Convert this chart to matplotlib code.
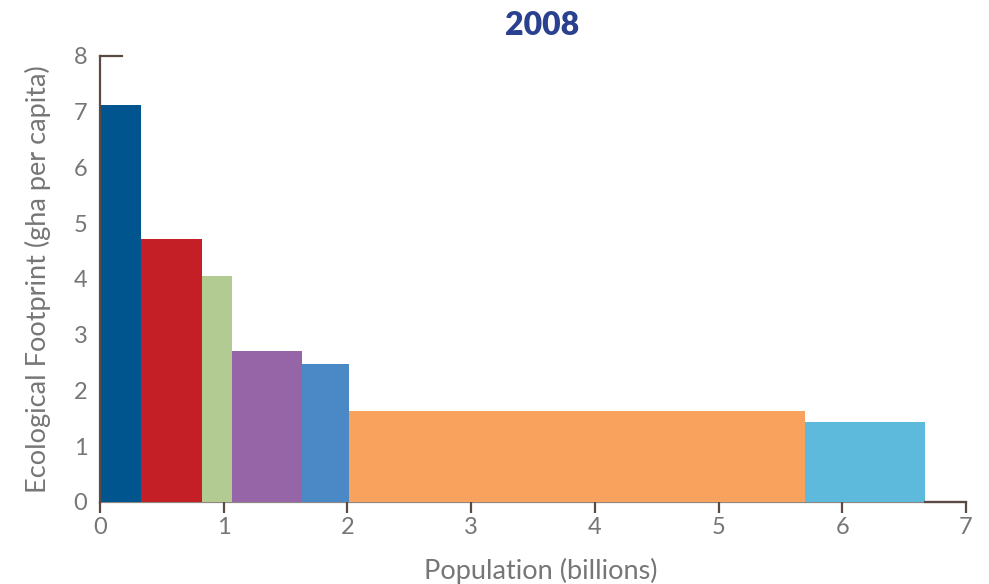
import matplotlib
matplotlib.use("Agg")
import matplotlib.pyplot as plt
from matplotlib.lines import Line2D

# Data (population in billions = bar widths, footprint gha per capita = bar heights)
pop_widths = [0.334, 0.492, 0.240, 0.569, 0.378, 3.687, 0.97]
footprint = [7.11, 4.71, 4.05, 2.71, 2.47, 1.63, 1.43]
colors = ["#00558f", "#c41f26", "#b2cb93", "#9565a8", "#4a88c6", "#f8a25e", "#5dbadd"]
xticks = [0, 1, 2, 3, 4, 5, 6, 7]
yticks = [0, 1, 2, 3, 4, 5, 6, 7, 8]
title = "2008"
xlabel = "Population (billions)"
ylabel = "Ecological Footprint (gha per capita)"

plt.rcParams['font.family'] = ['Lato', 'DejaVu Sans']

fig = plt.figure(figsize=(9.89, 5.84), dpi=100)
ax = fig.add_axes([100/989, 82/584, 866/989, 446.3/584])

lefts = []
acc = 0.0
for w in pop_widths:
    lefts.append(acc)
    acc += w
ax.bar(lefts, footprint, width=pop_widths, align='edge', color=colors, linewidth=0, zorder=2)

ax.set_xlim(0, 7)
ax.set_ylim(0, 8)

for s in ['top', 'right']:
    ax.spines[s].set_visible(False)
ax.spines['left'].set_color('#5b4a44')
ax.spines['left'].set_linewidth(1.6)
ax.spines['bottom'].set_color('#8f8782')
ax.spines['bottom'].set_linewidth(1.6)
ax.spines['left'].set_zorder(3)
ax.spines['bottom'].set_zorder(1)

# end caps
ax.add_line(Line2D([0, 0.175], [8, 8], color='#5b4a44', lw=1.6, clip_on=False, zorder=3))
ax.add_line(Line2D([6.67, 7], [0, 0], color='#5b4a44', lw=1.6, clip_on=False, zorder=3))

ax.set_xticks(xticks)
ax.set_xticklabels([str(t) for t in xticks])
ax.set_yticks(yticks)
ax.set_yticklabels([str(t) for t in yticks])
ax.tick_params(axis='x', direction='out', length=8, width=1.6, color='#5b4a44',
               labelsize=17, labelcolor='#767676', pad=3)
ax.tick_params(axis='y', length=0, labelsize=17, labelcolor='#767676', pad=9)

ax.set_xlabel(xlabel, fontsize=19.5, color='#767676', labelpad=12)
ax.xaxis.set_label_coords(0.509, -0.125)
ax.set_ylabel(ylabel, fontsize=19.5, color='#767676', labelpad=16)
fig.text(0.548, 0.956, title, ha='center', va='center', fontsize=23, fontweight='heavy', color='#2a4190')

fig.savefig("out.png", dpi=100)
